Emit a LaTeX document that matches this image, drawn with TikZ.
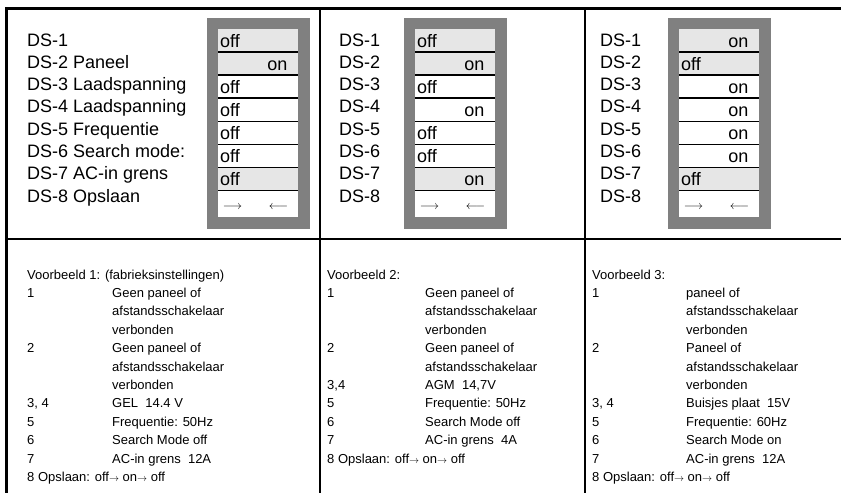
\documentclass[tikz,border=0pt]{standalone}
\usepackage{fontspec}
\newfontfamily\labf{Liberation Sans}
\definecolor{boxgray}{HTML}{808080}
\definecolor{rowgray}{HTML}{E6E6E6}
\newcommand{\sar}{{\fontsize{10}{10}\selectfont$\rightarrow$}}
\begin{document}
\begin{tikzpicture}[x=1pt,y=-1pt,
  frame/.style={line width=2.5pt},
  divider/.style={line width=2pt},
  rowline/.style={line width=1.4pt},
  lbl/.style={font=\labf\fontsize{18}{22}\selectfont, anchor=base west, inner sep=0pt},
  rowtxt/.style={font=\labf\fontsize{18}{22}\selectfont, inner sep=0pt},
  txt/.style={font=\labf\fontsize{13}{15}\selectfont, anchor=base west, inner sep=0pt},
  arr/.style={font=\fontsize{12}{12}\selectfont, inner sep=0pt, anchor=center}]
\useasboundingbox (0,0) rectangle (841,493);

% frame
\draw[frame] (5,8.5) -- (841,8.5);
\draw[frame] (6.5,7.25) -- (6.5,493);
\draw[frame] (5,239) -- (841,239);
\draw[divider] (320,8) -- (320,493);
\draw[divider] (584.5,8) -- (584.5,493);

% switch boxes
\foreach \bx/\c in {207/1,404/2,668/3}{
  \fill[boxgray] (\bx,18) rectangle ++(103,211);
  \fill[white] (\bx+11,29) rectangle ++(80,188);
  \foreach \k in {0,1,6}{
    \fill[rowgray] (\bx+11,29+23.05*\k) rectangle ++(80,23.05);
  }
  \foreach \k in {1,...,7}{
    \draw[rowline] (\bx+11,29+23.05*\k) -- ++(80,0);
  }
  \node[arr] (ra\c) at (\bx+11+14.5,207) {$\longrightarrow$};
  \node[arr] (la\c) at (\bx+11+60.5,207) {$\longleftarrow$};
}

% row states
\foreach \bx/\c/\sts in {218/1/{w/off,e/on,w/off,w/off,w/off,w/off,w/off},
                         415/2/{w/off,e/on,w/off,e/on,w/off,w/off,e/on},
                         679/3/{e/on,w/off,e/on,e/on,e/on,e/on,w/off}}{
  \foreach \a/\t [count=\k from 0] in \sts {
    \if\a w
      \node[rowtxt,anchor=base west] (s\c-\k) at (\bx+2,47.5+23.05*\k) {\t};
    \else
      \node[rowtxt,anchor=base east] (s\c-\k) at (\bx+69.5,47.5+23.05*\k) {\t};
    \fi
  }
}

% labels
\foreach \t [count=\k from 0] in {DS-1,DS-2 Paneel,DS-3 Laadspanning,DS-4 Laadspanning,DS-5 Frequentie,DS-6 Search mode:,DS-7 AC-in grens,DS-8 Opslaan}{
  \node[lbl] (la-\k) at (27,46+22.3*\k) {\t};
}
\foreach \t [count=\k from 0] in {DS-1,DS-2,DS-3,DS-4,DS-5,DS-6,DS-7,DS-8}{
  \node[lbl] (lb-\k) at (339,46+22.3*\k) {\t};
  \node[lbl] (lc-\k) at (600,46+22.3*\k) {\t};
}

% bottom texts
\def\bs{18.4}
\def\bz{279}
% column 1
\node[txt] (v1) at (27,\bz) {Voorbeeld 1: (fabrieksinstellingen)};
\foreach \n/\d/\k in {1/Geen paneel of/1,/afstandsschakelaar/2,/verbonden/3,2/Geen paneel of/4,/afstandsschakelaar/5,/verbonden/6,{3, 4}/{GEL\ \ 14.4 V}/7,5/{Frequentie: 50Hz}/8,6/Search Mode off/9,7/{AC-in grens\ \ 12A}/10}{
  \node[txt] (n1-\k) at (27,\bz+\bs*\k) {\n};
  \node[txt] (d1-\k) at (112,\bz+\bs*\k) {\d};
}
\node[txt] (o1) at (27,\bz+\bs*11) {8 Opslaan: off\sar{} on\sar{} off};
% column 2
\node[txt] (v2) at (327,\bz) {Voorbeeld 2:};
\foreach \n/\d/\k in {1/Geen paneel of/1,/afstandsschakelaar/2,/verbonden/3,2/Geen paneel of/4,/afstandsschakelaar/5,{3,4}/{AGM\ \ 14,7V}/6,5/{Frequentie: 50Hz}/7,6/Search Mode off/8,7/{AC-in grens\ \ 4A}/9}{
  \node[txt] (n2-\k) at (327,\bz+\bs*\k) {\n};
  \node[txt] (d2-\k) at (425,\bz+\bs*\k) {\d};
}
\node[txt] (o2) at (327,\bz+\bs*10) {8 Opslaan: off\sar{} on\sar{} off};
% column 3
\node[txt] (v3) at (592,\bz) {Voorbeeld 3:};
\foreach \n/\d/\k in {1/paneel of/1,/afstandsschakelaar/2,/verbonden/3,2/Paneel of/4,/afstandsschakelaar/5,/verbonden/6,{3, 4}/{Buisjes plaat\ \ 15V}/7,5/{Frequentie: 60Hz}/8,6/Search Mode on/9,7/{AC-in grens\ \ 12A}/10}{
  \node[txt] (n3-\k) at (592,\bz+\bs*\k) {\n};
  \node[txt] (d3-\k) at (686,\bz+\bs*\k) {\d};
}
\node[txt] (o3) at (592,\bz+\bs*11) {8 Opslaan: off\sar{} on\sar{} off};
\end{tikzpicture}
\end{document}
